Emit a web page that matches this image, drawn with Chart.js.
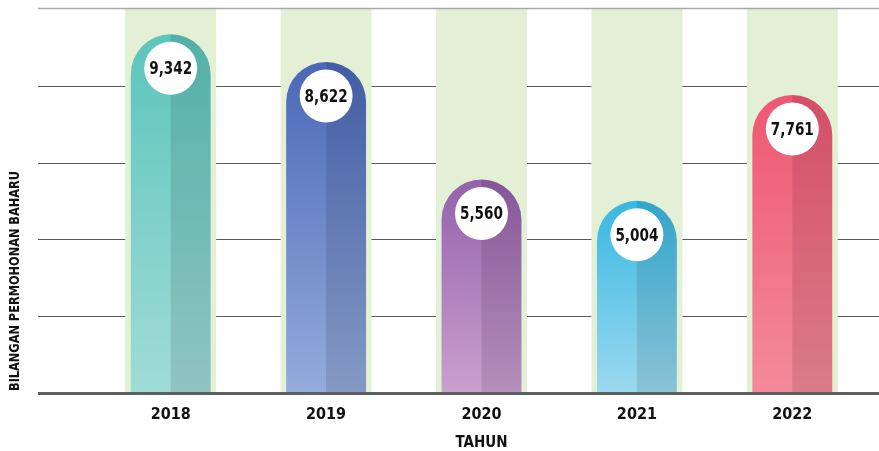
<!DOCTYPE html>
<html>
<head>
<meta charset="utf-8">
<script src="https://cdn.jsdelivr.net/npm/chart.js@4"></script>
<style>
  html, body { margin: 0; padding: 0; background: #fff; }
  #wrap { width: 879px; height: 451px; }
</style>
</head>
<body>
<div id="wrap"><canvas id="chart" width="879" height="451"></canvas></div>
<script>
const years = ['2018', '2019', '2020', '2021', '2022'];
const applications = [9342, 8622, 5560, 5004, 7761];
const bandValues = [10000, 10000, 10000, 10000, 10000];
const yTicks = [0, 2000, 4000, 6000, 8000, 10000];

const topColors = ['#5cc5bc', '#4a68b8', '#9461ab', '#38b8e2', '#ee5872'];
const bottomColors = ['#a0dcd6', '#95abdb', '#caa0cf', '#9cd9ef', '#f38a9b'];

const condensed = "'DejaVu Sans Condensed', 'Liberation Sans Narrow', sans-serif";

// gradient from each bar's own top down to the baseline
function barGradient(c) {
  const chart = c.chart;
  const i = c.dataIndex;
  if (!chart.chartArea) return topColors[i];
  const top = chart.scales.y.getPixelForValue(applications[i]);
  const g = chart.ctx.createLinearGradient(0, top, 0, chart.chartArea.bottom);
  g.addColorStop(0, topColors[i]);
  g.addColorStop(1, bottomColors[i]);
  return g;
}

const decorPlugin = {
  id: 'decor',
  beforeDatasetsDraw(chart) {
    const { ctx } = chart;
    const y = chart.scales.y;
    ctx.save();
    ctx.strokeStyle = '#5a5a5a';
    ctx.lineWidth = 1;
    for (const t of yTicks) {
      if (t === 0 || t === 10000) continue;
      const py = Math.round(y.getPixelForValue(t)) + 0.5;
      ctx.beginPath();
      ctx.moveTo(38, py);
      ctx.lineTo(879, py);
      ctx.stroke();
    }
    ctx.restore();
  },
  afterDatasetDraw(chart, args) {
    if (args.index !== 1) return;
    const { ctx } = chart;
    ctx.save();
    ctx.fillStyle = 'rgba(0,0,0,0.1)';
    for (const el of args.meta.data) {
      const { x, y, base, width } = el.getProps(['x', 'y', 'base', 'width'], true);
      const r = width / 2;
      ctx.beginPath();
      ctx.moveTo(x, y);
      ctx.arc(x, y + r, r, -Math.PI / 2, 0);
      ctx.lineTo(x + r, base);
      ctx.lineTo(x, base);
      ctx.closePath();
      ctx.fill();
    }
    ctx.restore();
  },
  afterDatasetsDraw(chart) {
    const { ctx } = chart;
    const y = chart.scales.y;
    const meta = chart.getDatasetMeta(1);
    ctx.save();
    // value bubbles
    meta.data.forEach((el, i) => {
      const { x, y: top } = el.getProps(['x', 'y'], true);
      const cy = top + 34;
      ctx.fillStyle = '#ffffff';
      ctx.beginPath();
      ctx.arc(x, cy, 26.5, 0, Math.PI * 2);
      ctx.fill();
      ctx.save();
      ctx.translate(x, cy + 1);
      ctx.scale(0.84, 1);
      ctx.fillStyle = '#111111';
      ctx.font = 'bold 18px ' + condensed;
      ctx.textAlign = 'center';
      ctx.textBaseline = 'middle';
      ctx.fillText(applications[i].toLocaleString('en-US'), 0, 0);
      ctx.restore();
    });
    // top line and baseline
    const topY = Math.round(y.getPixelForValue(10000)) - 0.5;
    ctx.strokeStyle = '#a8a8a8';
    ctx.lineWidth = 1.5;
    ctx.beginPath();
    ctx.moveTo(38, topY);
    ctx.lineTo(879, topY);
    ctx.stroke();
    const baseY = y.getPixelForValue(0) + 0.5;
    ctx.strokeStyle = '#5f5f5f';
    ctx.lineWidth = 3;
    ctx.beginPath();
    ctx.moveTo(38, baseY);
    ctx.lineTo(879, baseY);
    ctx.stroke();
    // y axis title
    ctx.translate(15, 281);
    ctx.rotate(-Math.PI / 2);
    ctx.scale(0.9, 1);
    ctx.fillStyle = '#111111';
    ctx.font = 'bold 14px ' + condensed;
    ctx.textAlign = 'center';
    ctx.textBaseline = 'middle';
    ctx.fillText('BILANGAN PERMOHONAN BAHARU', 0, 0);
    ctx.restore();
  }
};

new Chart(document.getElementById('chart'), {
  type: 'bar',
  data: {
    labels: years,
    datasets: [
      {
        data: bandValues,
        backgroundColor: '#e3f0d6',
        barPercentage: 0.585,
        categoryPercentage: 1,
        grouped: false,
        order: 2
      },
      {
        data: applications,
        backgroundColor: barGradient,
        barPercentage: 0.514,
        categoryPercentage: 1,
        grouped: false,
        borderRadius: { topLeft: 40, topRight: 40, bottomLeft: 0, bottomRight: 0 },
        borderSkipped: 'bottom',
        order: 1
      }
    ]
  },
  options: {
    responsive: false,
    animation: false,
    layout: { padding: { left: 93, right: 9, top: 9, bottom: 0 } },
    plugins: {
      legend: { display: false },
      tooltip: { enabled: false }
    },
    scales: {
      x: {
        grid: { display: false, drawTicks: false },
        border: { display: false },
        ticks: {
          color: '#111111',
          padding: 12,
          font: { family: condensed, size: 16, weight: 'bold' }
        },
        title: {
          display: true,
          text: 'TAHUN',
          color: '#111111',
          padding: { top: 0, bottom: 0 },
          font: { family: condensed, size: 15, weight: 'bold', lineHeight: 1 }
        },
        afterFit(scale) { scale.height = 58; }
      },
      y: {
        display: false,
        min: 0,
        max: 10000,
        ticks: { stepSize: 2000 }
      }
    }
  },
  plugins: [decorPlugin]
});
</script>
</body>
</html>
